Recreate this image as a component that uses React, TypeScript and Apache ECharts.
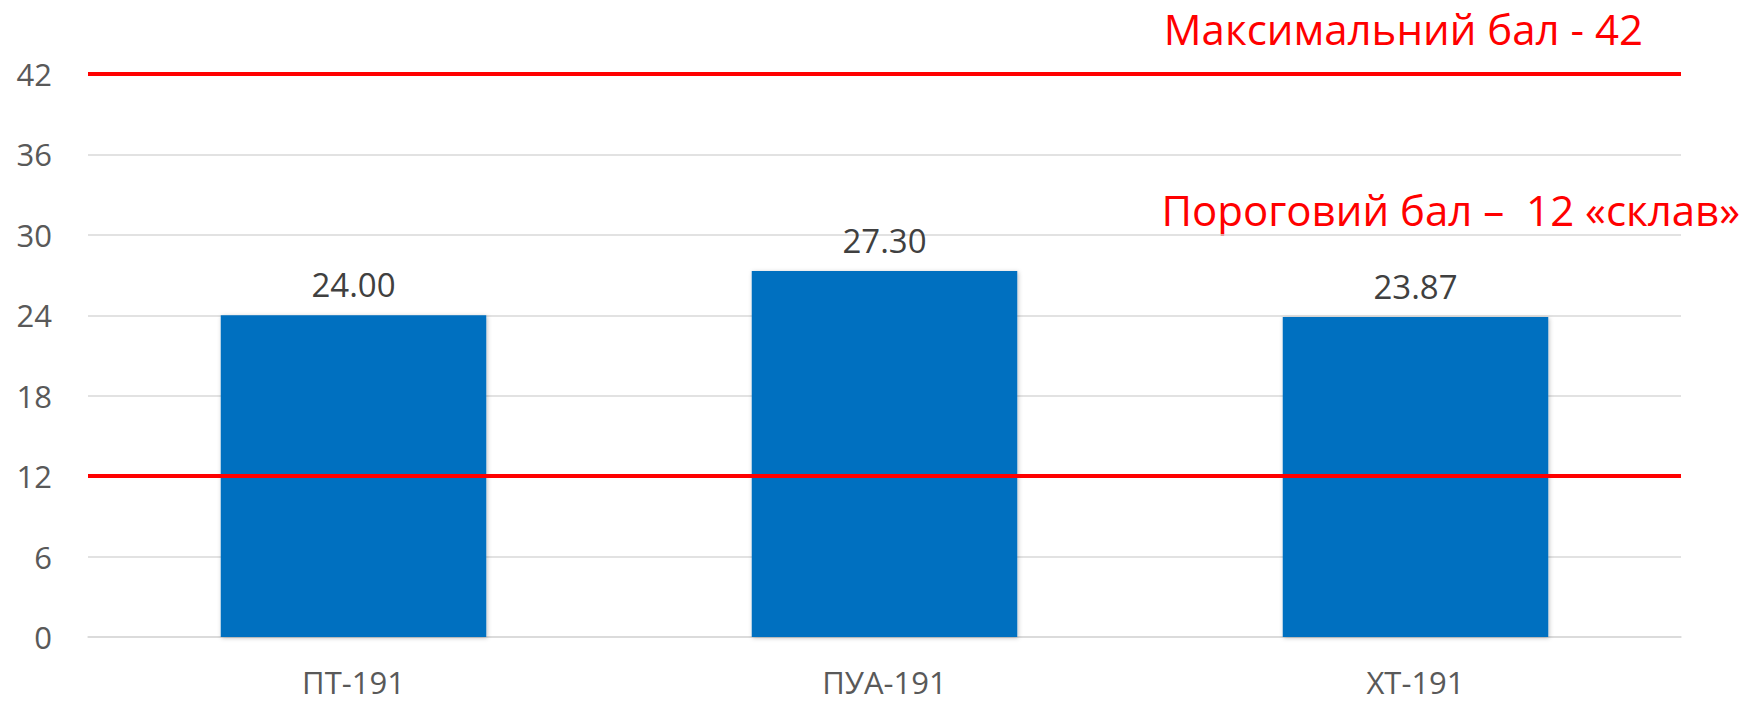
import React, { useEffect, useRef } from "react";
import * as echarts from "echarts";

const categories = ["ПТ-191", "ПУА-191", "ХТ-191"];
const scores = [24.0, 27.3, 23.87];
const yTicks = { min: 0, max: 42, interval: 6 };
const maxScore = 42;
const thresholdScore = 12;
const maxLabel = "Максимальний бал - 42";
const thresholdLabel = "Пороговий бал –  12 «склав»";

export default function App() {
  const ref = useRef<HTMLDivElement>(null);
  useEffect(() => {
    if (!ref.current) return;
    const chart = echarts.init(ref.current, undefined, { renderer: "svg" });
    const font = "'Open Sans', sans-serif";
    chart.setOption({
      animation: false,
      backgroundColor: "#ffffff",
      grid: { left: 88, right: 71, top: 74, bottom: 64, containLabel: false },
      xAxis: {
        type: "category",
        data: categories,
        axisLine: { show: true, lineStyle: { color: "#D9D9D9", width: 1.5 } },
        axisTick: { show: false },
        axisLabel: {
          color: "#595959",
          fontFamily: font,
          fontSize: 31,
          margin: 29,
        },
      },
      yAxis: {
        type: "value",
        min: yTicks.min,
        max: yTicks.max,
        interval: yTicks.interval,
        axisLine: { show: false },
        axisTick: { show: false },
        splitLine: { lineStyle: { color: "#D9D9D9", width: 1.5 } },
        axisLabel: {
          color: "#595959",
          fontFamily: font,
          fontSize: 31,
          margin: 36,
        },
      },
      series: [
        {
          type: "bar",
          data: scores,
          barWidth: "50%",
          itemStyle: {
            color: "#0070C0",
            shadowBlur: 4,
            shadowColor: "rgba(0,0,0,0.25)",
            shadowOffsetX: 1,
            shadowOffsetY: 1,
          },
          label: {
            show: true,
            position: "top",
            distance: 14,
            color: "#404040",
            fontFamily: font,
            fontSize: 33,
            formatter: (p: any) => Number(p.value).toFixed(2),
          },
          markLine: {
            silent: true,
            symbol: "none",
            label: { show: false },
            lineStyle: { color: "#FF0000", width: 4, type: "solid" },
            data: [{ yAxis: maxScore }, { yAxis: thresholdScore }],
          },
        },
      ],
      graphic: [
        {
          type: "text",
          right: 1752 - 1643,
          top: 7,
          style: {
            text: maxLabel,
            fill: "#FF0000",
            font: `42px ${font}`,
          },
        },
        {
          type: "text",
          right: 1752 - 1740,
          top: 188,
          style: {
            text: thresholdLabel,
            fill: "#FF0000",
            font: `42px ${font}`,
          },
        },
      ],
    });
    return () => chart.dispose();
  }, []);
  return (
    <div
      ref={ref}
      style={{ position: "fixed", left: 0, top: 0, width: 1752, height: 701 }}
    />
  );
}
